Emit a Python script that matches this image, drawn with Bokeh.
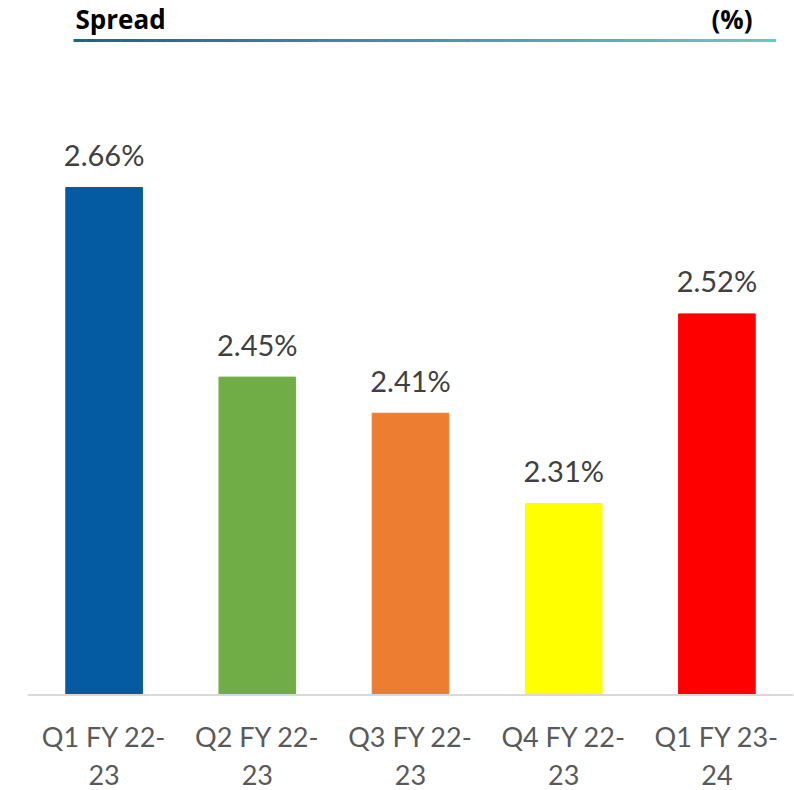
from bokeh.plotting import figure
from bokeh.models import Range1d, ColumnDataSource, Span
from bokeh.layouts import column
from bokeh.embed import file_html
from bokeh.resources import INLINE
from bokeh.core.properties import value

categories = ["Q1 FY 22-23", "Q2 FY 22-23", "Q3 FY 22-23", "Q4 FY 22-23", "Q1 FY 23-24"]
spread = [2.66, 2.45, 2.41, 2.31, 2.52]
bar_labels = ["2.66%", "2.45%", "2.41%", "2.31%", "2.52%"]
tick_line1 = ["Q1 FY 22-", "Q2 FY 22-", "Q3 FY 22-", "Q4 FY 22-", "Q1 FY 23-"]
tick_line2 = ["23", "23", "23", "23", "24"]
colors = ["#045BA1", "#70AD47", "#ED7D31", "#FFFF00", "#FF0000"]

W = 794
BASE = 2.098
LEFT = 27

# ---- header (title + gradient rule) ----
HH = 48
h = figure(width=W, height=HH, x_range=Range1d(LEFT, W - 1), y_range=Range1d(HH, 0),
           output_backend="svg", toolbar_location=None,
           min_border_left=LEFT, min_border_right=1, min_border_top=0, min_border_bottom=0)
h.axis.visible = False
h.grid.visible = False
h.outline_line_color = None
h.text(x=[75], y=[18], text=["Spread"], text_font=value("Open Sans"), text_font_style="bold",
       text_font_size="26px", text_color="#000000", text_baseline="alphabetic", text_align="left")
h.text(x=[752], y=[18], text=["(%)"], text_font=value("Open Sans"), text_font_style="bold",
       text_font_size="26px", text_color="#000000", text_baseline="alphabetic", text_align="right")
n = 60
x0, x1 = 73, 775
c0 = (0x1B, 0x66, 0x86)
c1 = (0x62, 0xCC, 0xC2)
xs0, xs1, cols = [], [], []
for i in range(n):
    t = i / (n - 1)
    xs0.append(x0 + (x1 - x0) * i / n)
    xs1.append(x0 + (x1 - x0) * (i + 1) / n + 0.5)
    cols.append("#%02x%02x%02x" % tuple(int(c0[k] + (c1[k] - c0[k]) * t) for k in range(3)))
h.segment(x0=xs0, y0=[40] * n, x1=xs1, y1=[40] * n, line_color=cols, line_width=3)

# ---- main chart ----
MH = 790 - HH
src = ColumnDataSource(dict(cat=categories, val=spread, lab=bar_labels, col=colors,
                            l1=tick_line1, l2=tick_line2, base=[BASE] * len(spread)))
p = figure(width=W, height=MH, x_range=categories, y_range=Range1d(1.9922, 2.8139),
           output_backend="svg", toolbar_location=None,
           min_border_left=LEFT, min_border_right=1, min_border_top=0, min_border_bottom=0)
p.vbar(x="cat", top="val", bottom=BASE, width=0.5, color="col", source=src)
p.text(x="cat", y="val", text="lab", source=src, y_offset=-33, text_align="center",
       text_baseline="alphabetic", text_font=value("Lato"), text_font_size="29px", text_color="#404040")
p.text(x="cat", y="base", text="l1", source=src, y_offset=42, text_align="center",
       text_baseline="alphabetic", text_font=value("Lato"), text_font_size="27px", text_color="#595959")
p.text(x="cat", y="base", text="l2", source=src, y_offset=80, text_align="center",
       text_baseline="alphabetic", text_font=value("Lato"), text_font_size="27px", text_color="#595959")
p.add_layout(Span(location=BASE, dimension="width", line_color="#D9D9D9", line_width=2))
p.axis.visible = False
p.grid.visible = False
p.outline_line_color = None

layout = column(h, p, spacing=0)
open("out.html", "w").write(file_html(layout, INLINE))
